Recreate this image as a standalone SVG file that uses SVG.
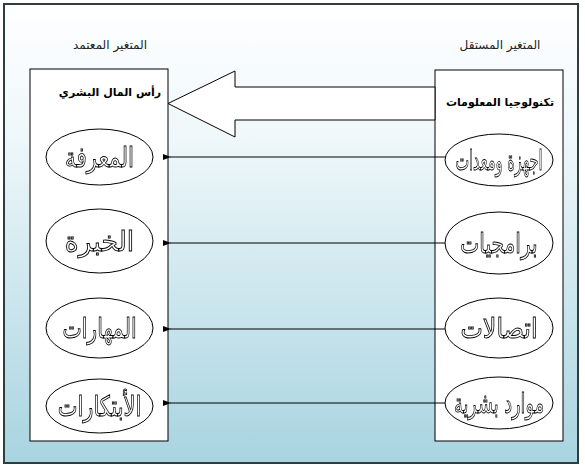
<svg xmlns="http://www.w3.org/2000/svg" width="585" height="472" viewBox="0 0 585 472">
<defs>
<linearGradient id="bg" x1="0" y1="0" x2="0" y2="1">
<stop offset="0" stop-color="#ffffff"/>
<stop offset="0.3" stop-color="#eef7fa"/>
<stop offset="1" stop-color="#a8d4e0"/>
</linearGradient>
<filter id="gray" x="-10%" y="-10%" width="120%" height="120%"><feOffset dx="0" dy="0"/></filter>
<marker id="ah" markerWidth="8" markerHeight="6" refX="1" refY="3" orient="auto" markerUnits="userSpaceOnUse">
<path d="M8,0 L0,3 L8,6 Z" fill="#000"/>
</marker>
</defs>
<style>
.box{fill:#fff;stroke:#000;stroke-width:1}
.ell{fill:#fff;stroke:#000;stroke-width:1}
.hdr{font-family:"DejaVu Sans",sans-serif;font-size:12px;fill:#222;text-anchor:middle}
.ttl{font-family:"DejaVu Sans",sans-serif;font-size:11px;font-weight:bold;fill:#000;text-anchor:middle}
.big{font-family:"DejaVu Sans",sans-serif;font-size:28px;fill:#fff;stroke:#000;stroke-width:0.9;text-anchor:middle;filter:url(#gray)}
.con{stroke:#000;stroke-width:1;fill:none;marker-end:url(#ah)}
</style>
<rect x="4" y="4" width="574" height="459" fill="url(#bg)" stroke="#2f3d3d" stroke-width="2"/>
<text class="hdr" x="110" y="49">المتغير المعتمد</text>
<text class="hdr" x="500" y="49">المتغير المستقل</text>
<g id="dependent">
<rect class="box" x="30" y="69" width="138" height="372"/>
<text class="ttl" x="110" y="96">رأس المال البشري</text>
</g>
<g id="independent">
<rect class="box" x="435" y="70" width="128" height="371"/>
<text class="ttl" x="500" y="106">تكنولوجيا المعلومات</text>
</g>
<g id="knowledge"><ellipse class="ell" cx="99.5" cy="157" rx="53.5" ry="28"/><text class="big" transform="translate(99.5,167) scale(0.77,1)">المعرفة</text></g>
<g id="experience"><ellipse class="ell" cx="99.5" cy="241" rx="53.5" ry="32"/><text class="big" transform="translate(99.5,251) scale(0.95,1)">الخبرة</text></g>
<g id="skills"><ellipse class="ell" cx="99.5" cy="328" rx="53.5" ry="30"/><text class="big" transform="translate(99.5,338) scale(0.73,1)">المهارات</text></g>
<g id="innovations"><ellipse class="ell" cx="99.5" cy="406" rx="53.5" ry="27"/><text class="big" transform="translate(99.5,416) scale(0.75,1)">الأبتكارات</text></g>
<g id="hardware"><ellipse class="ell" cx="499" cy="160" rx="54" ry="26"/><text class="big" transform="translate(499,170) scale(0.52,1)">اجهزة ومعدات</text></g>
<g id="software"><ellipse class="ell" cx="499" cy="243" rx="54" ry="31"/><text class="big" transform="translate(499,253) scale(0.72,1)">برامجيات</text></g>
<g id="communications"><ellipse class="ell" cx="499" cy="328" rx="54" ry="30"/><text class="big" transform="translate(499,338) scale(0.85,1)">اتصالات</text></g>
<g id="human-resources"><ellipse class="ell" cx="499" cy="403" rx="54" ry="26"/><text class="big" transform="translate(499,413) scale(0.63,1)">موارد بشرية</text></g>
<g id="connectors">
<polygon points="435,87 235,87 235,71 168,103.5 235,137 235,120 435,120" fill="#fff" stroke="#000" stroke-width="1"/>
<line class="con" x1="445" y1="157" x2="170" y2="157"/>
<line class="con" x1="445" y1="243" x2="170" y2="243"/>
<line class="con" x1="445" y1="329" x2="170" y2="329"/>
<line class="con" x1="445" y1="403" x2="170" y2="403"/>
</g>
</svg>
